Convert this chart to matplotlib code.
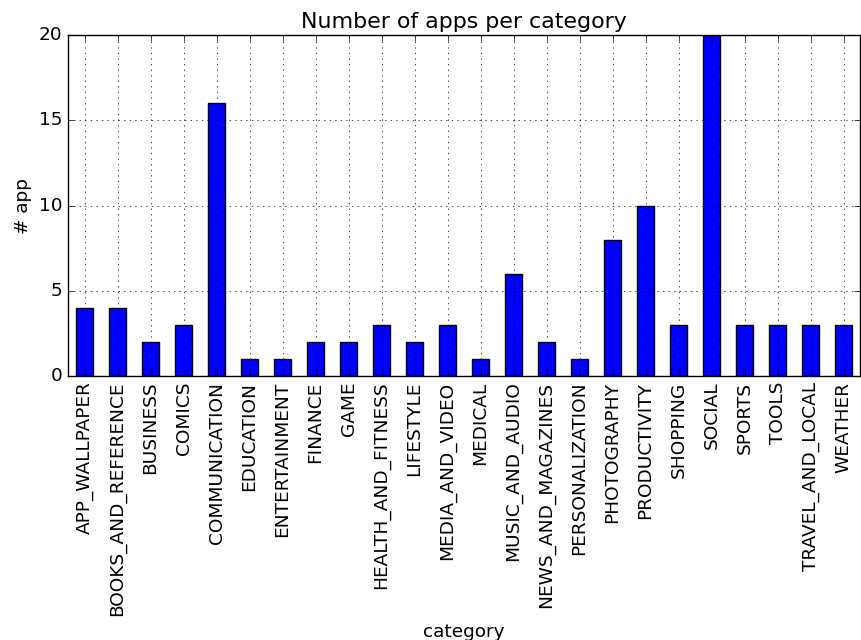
import matplotlib
matplotlib.use("Agg")
import numpy as np
import pandas as pd
from matplotlib import pyplot as plt

categories = ["APP_WALLPAPER", "BOOKS_AND_REFERENCE", "BUSINESS", "COMICS",
              "COMMUNICATION", "EDUCATION", "ENTERTAINMENT", "FINANCE", "GAME",
              "HEALTH_AND_FITNESS", "LIFESTYLE", "MEDIA_AND_VIDEO", "MEDICAL",
              "MUSIC_AND_AUDIO", "NEWS_AND_MAGAZINES", "PERSONALIZATION",
              "PHOTOGRAPHY", "PRODUCTIVITY", "SHOPPING", "SOCIAL", "SPORTS",
              "TOOLS", "TRAVEL_AND_LOCAL", "WEATHER"]
counts = [4, 4, 2, 3, 16, 1, 1, 2, 2, 3, 2, 3, 1, 6, 2, 1, 8, 10, 3, 20, 3, 3, 3, 3]

plt.style.use("classic")
plt.rcParams["font.size"] = 13.3

fig = plt.figure(figsize=(8.62, 6.4), dpi=100)
ax = fig.add_subplot(111)
s = pd.Series(counts, index=pd.Index(categories, name="category"))
s.plot(kind="bar", ax=ax, color="b")
ax.set_title("Number of apps per category")
ax.set_ylabel("# app")
ax.set_xlabel("category")
ax.grid(True)
fig.subplots_adjust(left=0.079, right=0.9977, top=0.945, bottom=0.4125)

plt.savefig("out.png", dpi=100)
